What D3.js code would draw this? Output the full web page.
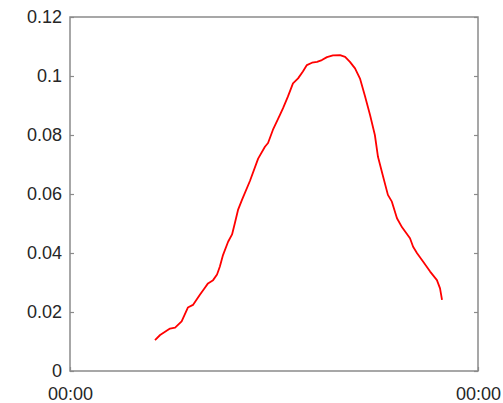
<!DOCTYPE html>
<html>
<head>
<meta charset="utf-8">
<script src="https://cdn.jsdelivr.net/npm/d3@7"></script>
<style>
  body { margin: 0; background: #fff; }
  svg { display: block; }
</style>
</head>
<body>
<div id="chart"></div>
<script>
// Daily profile: one red line over a 24h time axis

const times = ["05:00","05:18","05:53","06:11","06:34","06:56","07:14","07:39","07:53","08:07",
  "08:25","08:39","08:49","09:00","09:18","09:32","09:42","09:53","10:07","10:35",
  "11:04","11:28","11:39","11:56","12:21","12:32","12:49","13:07","13:25","13:42",
  "13:56","14:14","14:32","14:49","15:07","15:28","15:53","16:11","16:28","16:46",
  "17:04","17:21","17:39","17:56","18:07","18:25","18:42","18:56","19:14","19:32",
  "20:00","20:11","20:25","20:46","21:11","21:35","21:46","21:53"];
const values = [0.0105,0.0122,0.0144,0.0147,0.0168,0.0215,0.0224,0.0259,0.0278,0.0297,
  0.0308,0.0327,0.0354,0.0393,0.0438,0.0463,0.0502,0.0546,0.0580,0.0644,
  0.0720,0.0760,0.0773,0.0817,0.0868,0.0891,0.0930,0.0975,0.0992,0.1015,
  0.1037,0.1045,0.1048,0.1054,0.1064,0.1070,0.1071,0.1065,0.1048,0.1026,
  0.0990,0.0932,0.0868,0.0800,0.0726,0.0659,0.0597,0.0574,0.0518,0.0487,
  0.0450,0.0421,0.0399,0.0371,0.0337,0.0308,0.0280,0.0241];
const yTicks = [0, 0.02, 0.04, 0.06, 0.08, 0.1, 0.12];

const width = 503, height = 403;
const margin = {top: 17, right: 25, bottom: 32, left: 70};

const day = "2020-01-01";
const parse = d3.timeParse("%Y-%m-%d %H:%M");
const data = times.map((t, i) => ({t: parse(day + " " + t), v: values[i]}));

const t0 = parse(day + " 00:00");
const t1 = d3.timeDay.offset(t0, 1);

const x = d3.scaleTime()
    .domain([t0, t1])
    .range([margin.left, width - margin.right]);

const y = d3.scaleLinear()
    .domain([0, 0.12])
    .range([height - margin.bottom, margin.top]);

const svg = d3.select("#chart").append("svg")
    .attr("width", width)
    .attr("height", height);

const axisColor = "#8a8a8a";
const textColor = "#262626";
const font = "Liberation Sans, Arial, sans-serif";

// box
svg.append("rect")
    .attr("x", margin.left)
    .attr("y", margin.top)
    .attr("width", width - margin.left - margin.right)
    .attr("height", height - margin.top - margin.bottom)
    .attr("fill", "none")
    .attr("stroke", axisColor)
    .attr("stroke-width", 1.5);

const yAxis = svg.append("g")
    .attr("transform", `translate(${margin.left},0)`)
    .call(d3.axisLeft(y).tickValues(yTicks).tickSizeInner(-4).tickSizeOuter(0)
        .tickPadding(8).tickFormat(d => String(+d.toFixed(2))));

const yAxisR = svg.append("g")
    .attr("transform", `translate(${width - margin.right},0)`)
    .call(d3.axisRight(y).tickValues(yTicks).tickSizeInner(-4).tickSizeOuter(0)
        .tickFormat(""));

const xAxis = svg.append("g")
    .attr("transform", `translate(0,${height - margin.bottom})`)
    .call(d3.axisBottom(x).tickValues([t0, t1]).tickSizeInner(-4).tickSizeOuter(0)
        .tickPadding(16).tickFormat(d3.timeFormat("%H:%M")));

[yAxis, yAxisR, xAxis].forEach(g => {
    g.select(".domain").remove();
    g.selectAll(".tick line").attr("stroke", axisColor).attr("stroke-width", 1.2);
    g.selectAll(".tick text")
        .attr("fill", textColor)
        .style("font-family", font)
        .style("font-size", "18px");
});

const line = d3.line()
    .x(d => x(d.t))
    .y(d => y(d.v));

svg.append("path")
    .datum(data)
    .attr("d", line)
    .attr("fill", "none")
    .attr("stroke", "#ff0000")
    .attr("stroke-width", 1.8)
    .attr("stroke-linejoin", "round");
</script>
</body>
</html>
